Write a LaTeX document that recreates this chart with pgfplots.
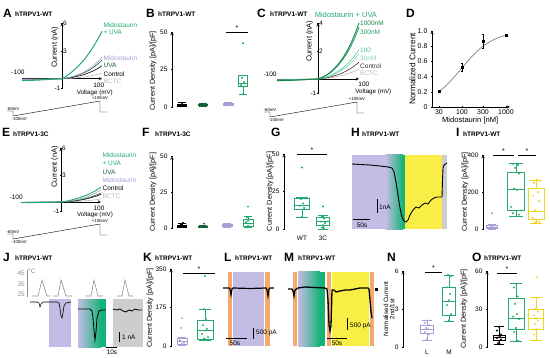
\documentclass[border=0pt]{standalone}
\usepackage{fontspec}
\setmainfont{Liberation Sans}
\usepackage{pgfplots}
\pgfplotsset{compat=1.18}
\usepgfplotslibrary{statistics}
\newcommand{\fs}[1]{\fontsize{#1}{#1}\selectfont}
\definecolor{grn}{RGB}{34,170,110}
\definecolor{dgrn}{RGB}{22,95,55}
\definecolor{lav}{RGB}{168,158,212}
\definecolor{lavbg}{RGB}{196,188,228}
\definecolor{yel}{RGB}{248,238,70}
\definecolor{yelbox}{RGB}{240,212,30}
\definecolor{org}{RGB}{244,170,105}
\definecolor{gbg}{RGB}{205,205,205}
\definecolor{bctc}{RGB}{185,185,185}
\definecolor{c1000}{RGB}{25,135,75}
\definecolor{c300}{RGB}{35,155,95}
\definecolor{c100}{RGB}{80,200,150}
\definecolor{c30}{RGB}{130,215,180}
\definecolor{ctrl}{RGB}{50,50,50}
\definecolor{hgrn}{RGB}{20,180,120}
\definecolor{tmp}{RGB}{140,140,140}
\tikzset{cl/.style={font=\fs{6.5}, anchor=west, inner sep=1pt}}
\pgfplotsset{
 base/.style={scale only axis, enlargelimits=false, clip=false,
   axis line style={line width=0.5pt,-},
   every inner x axis line/.append style={-}, every inner y axis line/.append style={-},
   every outer x axis line/.append style={-}, every outer y axis line/.append style={-},
   tick style={black,line width=0.5pt}, major tick length=2pt, tick align=outside,
   tick label style={font=\fs{6.5}}, /pgf/number format/assume math mode=true},
 ivax/.style={base, axis lines=middle, xmin=-100, xmax=100, ymin=-1, xtick=\empty, yticklabels={}},
 boxax/.style={base, axis x line=none, axis y line=left, xtick=\empty, ytick pos=left, boxplot/draw direction=y},
 trax/.style={base, hide axis, y dir=reverse},
 bx/.style={line width=0.6pt, solid},
 pts/.style={only marks, mark=*, mark size=0.75pt},
}
\newcommand\plab[3]{\node[anchor=base west, inner sep=0, font=\fs{12}\bfseries] at (#1pt,-#2pt) {#3};}
\newcommand\tlab[3]{\node[anchor=base west, inner sep=0, font=\fs{6.5}\bfseries] at (#1pt,-#2pt) {#3};}
\newcommand\protocol[2]{%
 \begin{scope}[shift={(#1pt,-#2pt)}]
  \draw[line width=0.4pt] (7pt,-111pt) -- (13pt,-111pt) -- (13pt,-116pt) -- (100pt,-101pt) -- (100pt,-112pt) -- (107pt,-112pt);
  \node[font=\fs{4.3}, anchor=south west, inner sep=0.5pt] at (6pt,-111pt) {-60mV};
  \node[font=\fs{4.3}, anchor=north west, inner sep=0.5pt] at (11pt,-116.5pt) {-100mV};
  \node[font=\fs{4.3}, anchor=south, inner sep=0.5pt] at (100pt,-100.5pt) {+100mV};
 \end{scope}}
\newcommand\ylab{\fs{7.2}}
\begin{document}
\begin{tikzpicture}
\useasboundingbox (0,0) rectangle (550pt,-358pt);
% ---------- labels ----------
\plab{3}{17.5}{A}\tlab{15}{16.5}{hTRPV1-WT}
\plab{146}{17.5}{B}\tlab{158}{16.5}{hTRPV1-WT}
\plab{257}{17.5}{C}\tlab{270}{16.5}{hTRPV1-WT}
\plab{406}{17.5}{D}
\plab{2}{137}{E}\tlab{13}{136.5}{hTRPV1-3C}
\plab{142}{137}{F}\tlab{155}{136.5}{hTRPV1-3C}
\plab{271}{137}{G}
\plab{351}{137}{H}\tlab{362}{136.5}{hTRPV1-WT}
\plab{456}{137}{I}\tlab{463}{136.5}{hTRPV1-WT}
\plab{3}{262}{J}\tlab{15}{261}{hTRPV1-WT}
\plab{143}{262}{K}\tlab{155}{261}{hTRPV1-WT}
\plab{224}{262}{L}\tlab{235}{261}{hTRPV1-WT}
\plab{284}{262}{M}\tlab{298}{261}{hTRPV1-WT}
\plab{387}{262}{N}
\plab{472}{262}{O}\tlab{484}{261}{hTRPV1-WT}
\protocol{0}{0}
\protocol{257}{1}
\protocol{0}{123}
% ---------- A ----------
\begin{axis}[ivax, at={(22pt,-88pt)}, anchor=south west, width=80pt, height=65pt, ymax=6, ytick={-1,3,6}]
\addplot[bctc, line width=0.6pt] coordinates {(-100,-0.02)(-80,-0.02)(-60,-0.01)(-40,-0.01)(-20,0)(0,0)(10,0.02)(20,0.04)(30,0.07)(40,0.11)(50,0.16)(60,0.22)(70,0.29)(80,0.38)(90,0.48)(100,0.6)};
\addplot[black, line width=0.6pt] coordinates {(-100,-0.06)(-80,-0.05)(-60,-0.04)(-40,-0.03)(-20,-0.01)(0,0)(10,0.04)(20,0.1)(30,0.17)(40,0.27)(50,0.38)(60,0.52)(70,0.69)(80,0.88)(90,1.12)(100,1.4)};
\addplot[dgrn, line width=0.6pt] coordinates {(-100,-0.08)(-80,-0.07)(-60,-0.06)(-40,-0.04)(-20,-0.02)(0,0)(10,0.06)(20,0.14)(30,0.24)(40,0.38)(50,0.54)(60,0.74)(70,0.98)(80,1.26)(90,1.6)(100,2.0)};
\addplot[lav, line width=0.6pt] coordinates {(-100,-0.09)(-80,-0.08)(-60,-0.07)(-40,-0.05)(-20,-0.02)(0,0)(10,0.07)(20,0.16)(30,0.28)(40,0.44)(50,0.62)(60,0.85)(70,1.13)(80,1.45)(90,1.84)(100,2.3)};
\addplot[grn, line width=1pt] coordinates {(-100,-0.2)(-80,-0.18)(-60,-0.15)(-40,-0.1)(-20,-0.05)(0,0)(10,0.25)(20,0.56)(30,0.92)(40,1.33)(50,1.79)(60,2.3)(70,2.9)(80,3.57)(90,4.28)(100,5.1)};
\node[cl, text=grn] at (axis cs:101,5.8) {Midostaurin};
\node[cl, text=grn] at (axis cs:101,4.95) {+ UVA};
\node[cl, text=lav] at (axis cs:101,2.26) {Midostaurin};
\node[cl, text=dgrn] at (axis cs:101,1.4) {UVA};
\node[cl, text=black] at (axis cs:101,0.54) {Control};
\node[cl, text=bctc] at (axis cs:101,-0.25) {BCTC};
\node[font=\fs{6.5}, anchor=west, inner sep=1pt] at (axis cs:0,6) {6};
\node[font=\fs{6.5}, anchor=west, inner sep=1pt] at (axis cs:0,3) {3};
\node[font=\fs{6.5}, anchor=east, inner sep=1.5pt] at (axis cs:0,-1) {-1};
\node[font=\fs{6.5}] at (axis cs:-110,0.65) {-100};
\node[font=\fs{6.5}] at (axis cs:92,-0.7) {100};
\node[font=\fs{6.2}] at (axis cs:82,-1.5) {Voltage (mV)};
\node[font=\fs{7.5}, rotate=90] at (axis cs:-17.5,3.4) {Current (nA)};
\end{axis}
% ---------- B ----------
\begin{axis}[boxax, at={(172pt,-107pt)}, anchor=south west, width=83pt, height=75pt, xmin=172, xmax=255, ymin=0, ymax=50, ytick={0,25,50}]
\addplot[draw=black, bx, boxplot prepared={draw position=182, lower whisker=0.2, lower quartile=0.6, median=1.2, upper quartile=2.0, upper whisker=3.0, box extend=9}] coordinates {};
\addplot[draw=dgrn, bx, boxplot prepared={draw position=203, lower whisker=0.3, lower quartile=0.8, median=1.3, upper quartile=1.8, upper whisker=2.5, box extend=9}] coordinates {};
\addplot[draw=lav, bx, boxplot prepared={draw position=228, lower whisker=0.8, lower quartile=1.2, median=1.6, upper quartile=2.2, upper whisker=2.8, box extend=10}] coordinates {};
\addplot[draw=grn, bx, boxplot prepared={draw position=243, lower whisker=8.5, lower quartile=14, median=16, upper quartile=20.8, upper whisker=21, box extend=9}] coordinates {};
\addplot[pts, black] coordinates {(181,0.5)(183,1.2)(182,2.8)(180,1.5)(184,0.9)};
\addplot[pts, dgrn] coordinates {(202,0.8)(204,1.5)(203,2.2)(201,1.1)};
\addplot[pts, lav] coordinates {(227,1.2)(229,2.0)(228,1.6)(226,0.9)};
\addplot[pts, grn] coordinates {(243,42.5)(242,19.5)(244,16.5)(241,14.5)(245,13.8)(243,8.5)};
\draw[line width=0.5pt] (axis cs:226,50) -- (axis cs:248,50) node[midway, above=-2pt, font=\fs{7}] {*};
\node[font=\ylab, rotate=90] at (axis cs:153,24) {Current Density [pA]/[pF]};
\end{axis}
% ---------- C ----------
\begin{axis}[ivax, at={(277pt,-93pt)}, anchor=south west, width=82pt, height=70pt, ymax=4, ytick={-1,2,4}]
\addplot[bctc, line width=0.6pt] coordinates {(-100,-0.02)(-80,-0.02)(-60,-0.01)(-40,-0.01)(-20,0)(0,0)(10,0.02)(20,0.05)(30,0.08)(40,0.13)(50,0.19)(60,0.26)(70,0.34)(80,0.44)(90,0.56)(100,0.7)};
\addplot[ctrl, line width=0.6pt] coordinates {(-100,-0.05)(-80,-0.04)(-60,-0.03)(-40,-0.02)(-20,-0.01)(0,0)(10,0.04)(20,0.08)(30,0.14)(40,0.23)(50,0.32)(60,0.44)(70,0.59)(80,0.76)(90,0.96)(100,1.2)};
\addplot[c30, line width=0.6pt] coordinates {(-100,-0.07)(-80,-0.06)(-60,-0.05)(-40,-0.04)(-20,-0.02)(0,0)(10,0.05)(20,0.13)(30,0.22)(40,0.34)(50,0.49)(60,0.67)(70,0.88)(80,1.13)(90,1.44)(100,1.8)};
\addplot[c100, line width=0.6pt] coordinates {(-100,-0.08)(-80,-0.07)(-60,-0.06)(-40,-0.04)(-20,-0.02)(0,0)(10,0.06)(20,0.15)(30,0.25)(40,0.4)(50,0.57)(60,0.78)(70,1.03)(80,1.32)(90,1.68)(100,2.1)};
\addplot[c300, line width=0.8pt] coordinates {(-100,-0.12)(-80,-0.1)(-60,-0.08)(-40,-0.06)(-20,-0.03)(0,0)(10,0.11)(20,0.26)(30,0.44)(40,0.7)(50,1.0)(60,1.37)(70,1.81)(80,2.33)(90,2.96)(100,3.7)};
\addplot[c1000, line width=0.9pt] coordinates {(-100,-0.13)(-80,-0.11)(-60,-0.09)(-40,-0.06)(-20,-0.03)(0,0)(10,0.12)(20,0.28)(30,0.48)(40,0.76)(50,1.08)(60,1.48)(70,1.96)(80,2.52)(90,3.2)(100,4.0)};
\node[cl, text=c1000] at (axis cs:100,4.0) {1000nM};
\node[cl, text=c300] at (axis cs:100,3.36) {300nM};
\node[cl, text=c100] at (axis cs:100,2.07) {100};
\node[cl, text=c30] at (axis cs:100,1.5) {30nM};
\node[cl, text=ctrl] at (axis cs:100,0.93) {Control};
\node[cl, text=bctc] at (axis cs:100,0.43) {BCTC};
\node[font=\fs{7.5}, text=grn] at (axis cs:68,4.57) {Midostaurin + UVA};
\node[font=\fs{6.5}, anchor=west, inner sep=1pt] at (axis cs:0,4) {4};
\node[font=\fs{6.5}, anchor=west, inner sep=1pt] at (axis cs:0,2) {2};
\node[font=\fs{6.5}, anchor=east, inner sep=1.5pt] at (axis cs:0,-1) {-1};
\node[font=\fs{6.5}] at (axis cs:-117,0.36) {-100};
\node[font=\fs{6.5}] at (axis cs:112,-0.4) {100};
\node[font=\fs{6.2}] at (axis cs:135,-0.92) {Voltage (mV)};
\node[font=\fs{7.5}, rotate=90] at (axis cs:-20,2.7) {Current (nA)};
\end{axis}
% ---------- D ----------
\begin{axis}[base, axis lines=left, at={(432pt,-107pt)}, anchor=south west, width=78pt, height=76pt, xmode=log, xmin=20.8, xmax=1233, ymin=0, ymax=1.0, xtick={30,100,300,1000}, xticklabels={30,100,300,1000}, ytick={0,0.2,0.4,0.6,0.8,1.0}, yticklabels={0,0.2,0.4,0.6,0.8,1.0}, tick label style={font=\fs{7}}, xticklabel style={inner sep=1pt}]
\addplot[gray, line width=0.7pt, smooth] coordinates {(30,0.20)(40,0.262)(50,0.316)(70,0.41)(100,0.515)(150,0.634)(200,0.71)(300,0.80)(500,0.88)(700,0.917)(1000,0.944)};
\addplot[only marks, mark=square*, mark size=1pt, black, error bars/.cd, y dir=both, y explicit, error mark options={rotate=90, mark size=1.2pt}] coordinates {(30,0.21) +- (0,0.015) (100,0.52) +- (0,0.05) (300,0.87) +- (0,0.09) (1000,0.94) +- (0,0.015)};
\node[font=\fs{7.6}] at (axis description cs:0.49,-0.175) {Midostaurin [nM]};
\node[font=\fs{8.3}, rotate=90] at (axis description cs:-0.25,0.5) {Normalized Current};
\end{axis}
% ---------- E ----------
\begin{axis}[ivax, at={(21pt,-211pt)}, anchor=south west, width=80pt, height=63pt, ymax=6, ytick={-1,3,6}]
\addplot[bctc, line width=0.6pt] coordinates {(-100,-0.01)(-80,-0.01)(-60,-0.01)(-40,0)(-20,0)(0,0)(10,0.01)(20,0.02)(30,0.04)(40,0.06)(50,0.09)(60,0.13)(70,0.17)(80,0.22)(90,0.28)(100,0.35)};
\addplot[black, line width=0.6pt] coordinates {(-100,-0.04)(-80,-0.03)(-60,-0.03)(-40,-0.02)(-20,-0.01)(0,0)(10,0.03)(20,0.06)(30,0.1)(40,0.16)(50,0.23)(60,0.31)(70,0.42)(80,0.54)(90,0.68)(100,0.85)};
\addplot[dgrn, line width=0.6pt] coordinates {(-100,-0.04)(-80,-0.04)(-60,-0.03)(-40,-0.02)(-20,-0.01)(0,0)(10,0.03)(20,0.07)(30,0.12)(40,0.19)(50,0.27)(60,0.37)(70,0.49)(80,0.63)(90,0.8)(100,1.0)};
\addplot[lav, line width=0.6pt] coordinates {(-100,-0.05)(-80,-0.05)(-60,-0.04)(-40,-0.03)(-20,-0.01)(0,0)(10,0.04)(20,0.09)(30,0.16)(40,0.26)(50,0.36)(60,0.5)(70,0.66)(80,0.85)(90,1.08)(100,1.35)};
\addplot[grn, line width=0.9pt] coordinates {(-100,-0.08)(-80,-0.07)(-60,-0.06)(-40,-0.04)(-20,-0.02)(0,0)(10,0.07)(20,0.15)(30,0.27)(40,0.39)(50,0.54)(60,0.7)(70,0.88)(80,1.1)(90,1.35)(100,1.65)};
\node[cl, text=grn] at (axis cs:101,5.2) {Midostaurin};
\node[cl, text=grn] at (axis cs:101,4.3) {+ UVA};
\node[cl, text=dgrn] at (axis cs:101,3.3) {UVA};
\node[cl, text=lav] at (axis cs:101,2.4) {Midostaurin};
\node[cl, text=black] at (axis cs:101,1.55) {Control};
\node[cl, text=bctc] at (axis cs:101,0.6) {BCTC};
\node[font=\fs{6.5}, anchor=west, inner sep=1pt] at (axis cs:0,6) {6};
\node[font=\fs{6.5}, anchor=west, inner sep=1pt] at (axis cs:0,3) {3};
\node[font=\fs{6.5}, anchor=east, inner sep=1.5pt] at (axis cs:0,-1) {-1};
\node[font=\fs{6.5}] at (axis cs:-112,0.55) {-100};
\node[font=\fs{6.5}] at (axis cs:95,-0.72) {100};
\node[font=\fs{6.2}] at (axis cs:85,-1.4) {Voltage (mV)};
\node[font=\fs{7.5}, rotate=90] at (axis cs:-15,3.9) {Current (nA)};
\end{axis}
% ---------- F ----------
\begin{axis}[boxax, at={(172pt,-228pt)}, anchor=south west, width=83pt, height=71.5pt, xmin=172, xmax=255, ymin=0, ymax=50, ytick={0,25,50}]
\addplot[draw=black, bx, boxplot prepared={draw position=182, lower whisker=0.3, lower quartile=0.8, median=1.4, upper quartile=2.2, upper whisker=3.5, box extend=9}] coordinates {};
\addplot[draw=dgrn, bx, boxplot prepared={draw position=203, lower whisker=0.3, lower quartile=0.6, median=1.0, upper quartile=1.5, upper whisker=2.0, box extend=9}] coordinates {};
\addplot[draw=lav, bx, boxplot prepared={draw position=227, lower whisker=0.8, lower quartile=1.2, median=1.7, upper quartile=2.4, upper whisker=3.0, box extend=10}] coordinates {};
\addplot[draw=grn, bx, boxplot prepared={draw position=248, lower whisker=0.3, lower quartile=1.2, median=3.5, upper quartile=6.3, upper whisker=8, box extend=10}] coordinates {};
\addplot[pts, black] coordinates {(182,1)(181,2.5)(183,3.5)};
\addplot[pts, dgrn] coordinates {(203,1)(204,3)(202,0.6)};
\addplot[pts, lav] coordinates {(227,1.5)(228,2.2)};
\addplot[pts, grn] coordinates {(248,15)(247,7.5)(249,6)(248,5)(246,4)(250,3)(248,1.5)(247,0.5)};
\node[font=\ylab, rotate=90] at (axis cs:153,25) {Current Density [pA]/[pF]};
\end{axis}
% ---------- G ----------
\begin{axis}[boxax, at={(284pt,-229pt)}, anchor=south west, width=50pt, height=75pt, xmin=284, xmax=334, ymin=0, ymax=50, ytick={0,25,50}]
\addplot[draw=grn, bx, boxplot prepared={draw position=302, lower whisker=8, lower quartile=13.3, median=16, upper quartile=20.7, upper whisker=21, box extend=15}] coordinates {};
\addplot[draw=grn, bx, boxplot prepared={draw position=323, lower whisker=0, lower quartile=2.7, median=5.3, upper quartile=8, upper whisker=9, box extend=13}] coordinates {};
\addplot[pts, grn] coordinates {(302,41)(301,20)(303,17)(300,15.5)(304,14)(302,8)};
\addplot[pts, grn] coordinates {(323,15)(322,8.5)(324,7)(321,5)(325,4)(323,2.5)(322,1)(324,0.3)};
\draw[line width=0.5pt] (axis cs:297,50) -- (axis cs:327,50) node[midway, above=-2pt, font=\fs{7}] {*};
\node[font=\fs{6.5}] at (axis cs:302,-6) {WT};
\node[font=\fs{6.5}] at (axis cs:323,-6) {3C};
\node[font=\ylab, rotate=90] at (axis cs:270,25) {Current Density [pA]/[pF]};
\end{axis}
% ---------- H ----------
\begin{axis}[trax, at={(352pt,-155pt)}, anchor=north west, width=95pt, height=74pt, xmin=352, xmax=447, ymin=155, ymax=229]
\fill[lavbg] (axis cs:352,155) rectangle (axis cs:386,229);
\fill[left color=lavbg, right color=hgrn] (axis cs:385.5,155) rectangle (axis cs:403,229);
\fill[hgrn] (axis cs:402.5,155) rectangle (axis cs:405,229);
\fill[yel] (axis cs:405,155) rectangle (axis cs:442,229);
\fill[gbg] (axis cs:442,155) rectangle (axis cs:447,229);
\addplot[black, line width=0.9pt] coordinates {(352,164)(360,164.5)(370,165)(380,166)(388,167)(392,168)(394,172)(396,182)(398,195)(400,208)(402,217)(404,221)(406,222)(408,220)(410,215)(413,210)(416,207)(419,208)(422,205)(425,203)(428,204)(431,200)(434,198)(437,197)(440,197)(442,197)(442.5,180)(443,168)(444,165)(447,163)};
\draw[line width=0.6pt] (axis cs:377,199) -- (axis cs:377,213);
\node[font=\fs{6.5}, anchor=west, inner sep=1pt] at (axis cs:378,207) {1nA};
\draw[line width=0.6pt] (axis cs:353,219) -- (axis cs:370,219);
\node[font=\fs{6.5}] at (axis cs:362,225) {50s};
\end{axis}
% ---------- I ----------
\begin{axis}[boxax, at={(483pt,-229pt)}, anchor=south west, width=65pt, height=74pt, xmin=483, xmax=548, ymin=0, ymax=400, ytick={0,200,400}]
\addplot[draw=lav, bx, boxplot prepared={draw position=492, lower whisker=0, lower quartile=5, median=10, upper quartile=18, upper whisker=25, box extend=11}] coordinates {};
\addplot[draw=grn, bx, boxplot prepared={draw position=516, lower whisker=70, lower quartile=103, median=214, upper quartile=304, upper whisker=355, box extend=17}] coordinates {};
\addplot[draw=yelbox, bx, boxplot prepared={draw position=536, lower whisker=32, lower quartile=50, median=97, upper quartile=220, upper whisker=265, box extend=16}] coordinates {};
\addplot[pts, lav] coordinates {(492,85)(490,22)(494,18)(491,12)(493,8)(490,5)(494,3)};
\addplot[pts, grn] coordinates {(513,352)(518,346)(515,330)(519,300)(514,218)(517,212)(511,120)(521,100)(513,85)(519,78)};
\addplot[pts, yelbox] coordinates {(537,265)(534,250)(538,200)(533,180)(539,150)(535,100)(537,95)(533,60)(539,40)(535,35)};
\draw[line width=0.5pt] (axis cs:493,400) -- (axis cs:514,400) node[midway, above=-2pt, font=\fs{7}] {*};
\draw[line width=0.5pt] (axis cs:518,400) -- (axis cs:536,400) node[midway, above=-2pt, font=\fs{7}] {*};
\node[font=\ylab, rotate=90] at (axis cs:465,200) {Current Density [pA]/[pF]};
\end{axis}
% ---------- J ----------
\begin{axis}[trax, at={(0pt,-262pt)}, anchor=north west, width=145pt, height=90pt, xmin=0, xmax=145, ymin=262, ymax=352]
\fill[lavbg] (axis cs:49,299) rectangle (axis cs:71,347);
\fill[left color=lavbg, right color=hgrn] (axis cs:78,299) rectangle (axis cs:101,347);
\fill[hgrn] (axis cs:100.5,299) rectangle (axis cs:106,347);
\fill[gbg] (axis cs:113,299) rectangle (axis cs:143,347);
\draw[tmp, line width=0.5pt] (axis cs:27,270) -- (axis cs:27,297);
\node[font=\fs{6.5}, text=tmp, anchor=east, inner sep=1pt] at (axis cs:26,273) {45};
\node[font=\fs{6.5}, text=tmp, anchor=east, inner sep=1pt] at (axis cs:26,284) {35};
\node[font=\fs{6.5}, text=tmp, anchor=east, inner sep=1pt] at (axis cs:26,294) {25};
\node[font=\fs{6.5}, text=tmp, anchor=west, inner sep=1pt] at (axis cs:27,271) {°C};
\addplot[tmp, line width=0.6pt] coordinates {(32,296)(38,296)(42,280)(47,296)(50,296)};
\addplot[tmp, line width=0.6pt] coordinates {(53,296)(58,296)(61,280)(66,296)(72,296)};
\addplot[tmp, line width=0.6pt] coordinates {(85,296)(91,296)(94,280)(98,296)(103,296)};
\addplot[tmp, line width=0.6pt] coordinates {(117,296)(122,296)(125,280)(129,296)(133,296)};
\addplot[black, line width=0.6pt] coordinates {(30,302)(37,302)(39,303)(40,307)(41,304)(43,302)(49,302)};
\addplot[black, line width=0.6pt] coordinates {(49,302)(57,302)(59,303)(60,308)(61,316)(62,318)(63,313)(64,306)(66,303)(71,302)};
\addplot[black, line width=0.8pt] coordinates {(78,309)(86,309)(90,309)(92,311)(93,318)(94,330)(95,340)(96,332)(97,318)(99,311)(102,310)(106,310)};
\addplot[black, line width=0.8pt] coordinates {(113,309)(117,310)(120,309)(123,311)(126,312)(129,310)(132,311)(135,309)(138,310)(142,310)};
\draw[line width=0.6pt] (axis cs:119,332) -- (axis cs:119,342);
\node[font=\fs{6.5}, anchor=west, inner sep=1pt] at (axis cs:121,337) {1 nA};
\draw[line width=0.6pt] (axis cs:106,347) -- (axis cs:117,347);
\node[font=\fs{6.5}] at (axis cs:112,352) {10s};
\end{axis}
% ---------- K ----------
\begin{axis}[boxax, at={(171pt,-346pt)}, anchor=south west, width=49pt, height=77pt, xmin=171, xmax=220, ymin=0, ymax=350, ytick={0,175,350}]
\addplot[draw=lav, bx, boxplot prepared={draw position=182, lower whisker=3, lower quartile=9, median=22, upper quartile=36, upper whisker=40, box extend=10}] coordinates {};
\addplot[draw=grn, bx, boxplot prepared={draw position=205, lower whisker=27, lower quartile=32, median=73, upper quartile=118, upper whisker=168, box extend=16}] coordinates {};
\addplot[pts, lav] coordinates {(182,127)(181,82)(183,36)(180,25)(184,15)(182,10)(181,5)};
\addplot[pts, grn] coordinates {(205,318)(204,168)(206,122)(203,95)(207,78)(205,70)(202,55)(208,40)(204,35)(206,30)};
\draw[line width=0.5pt] (axis cs:183,332) -- (axis cs:215,332) node[midway, above=-2pt, font=\fs{7}] {*};
\node[font=\ylab, rotate=90] at (axis cs:150,173) {Current Density [pA]/[pF]};
\end{axis}
% ---------- L ----------
\begin{axis}[trax, at={(222pt,-272pt)}, anchor=north west, width=53pt, height=74pt, xmin=222, xmax=275, ymin=272, ymax=346]
\fill[org] (axis cs:227.5,272) rectangle (axis cs:232,346);
\fill[lavbg] (axis cs:233,272) rectangle (axis cs:264,346);
\fill[org] (axis cs:265,272) rectangle (axis cs:270,346);
\addplot[black, line width=1.2pt] coordinates {(223,288)(229,288)(230,289)(231,295)(232,289)(233,288)(250,288.5)(266,288)(267,290)(268,296)(269,289)(270,288)(274,288)};
\draw[line width=0.6pt] (axis cs:253,328) -- (axis cs:253,339);
\node[font=\fs{6.5}, anchor=west, inner sep=1pt] at (axis cs:255,333) {500 pA};
\draw[line width=0.6pt] (axis cs:226,338) -- (axis cs:247,338);
\node[font=\fs{6.5}] at (axis cs:235,343) {50s};
\end{axis}
% ---------- M ----------
\begin{axis}[trax, at={(285pt,-272pt)}, anchor=north west, width=95pt, height=74pt, xmin=285, xmax=380, ymin=272, ymax=346]
\fill[org] (axis cs:293,272) rectangle (axis cs:297,346);
\fill[left color=lavbg, right color=hgrn] (axis cs:298,272) rectangle (axis cs:320,346);
\fill[hgrn] (axis cs:319.5,272) rectangle (axis cs:325,346);
\fill[org] (axis cs:327,272) rectangle (axis cs:330.5,346);
\fill[yel] (axis cs:331.5,272) rectangle (axis cs:369,346);
\fill[org] (axis cs:370,272) rectangle (axis cs:374,346);
\addplot[black, line width=1.3pt] coordinates {(288,289)(292,289)(293,291)(294,296)(295,290)(298,288)(305,287)(315,287.5)(325,288)(327,289)(328,300)(329,325)(330,331)(331,326)(332,290)(334,290)(336,292)(340,291)(345,290)(350,290)(355,289)(360,288)(365,288)(368,288)(369,289)(370,300)(371,312)(372,318)};
\addplot[black, only marks, mark=square*, mark size=1.2pt] coordinates {(376,289)};
\draw[line width=0.6pt] (axis cs:347,318) -- (axis cs:347,330);
\node[font=\fs{6.5}, anchor=west, inner sep=1pt] at (axis cs:349,326) {500 pA};
\draw[line width=0.6pt] (axis cs:327,338) -- (axis cs:347,338);
\node[font=\fs{6.5}] at (axis cs:337,343) {50s};
\end{axis}
% ---------- N ----------
\begin{axis}[boxax, at={(403pt,-347pt)}, anchor=south west, width=59pt, height=76pt, xmin=403, xmax=462, ymin=0, ymax=6, ytick={0,3,6}]
\addplot[draw=lav, bx, boxplot prepared={draw position=427, lower whisker=0.55, lower quartile=1.1, median=1.4, upper quartile=1.75, upper whisker=2.1, box extend=13}] coordinates {};
\addplot[draw=grn, bx, boxplot prepared={draw position=449, lower whisker=2.0, lower quartile=2.5, median=3.6, upper quartile=4.7, upper whisker=5.7, box extend=13}] coordinates {};
\addplot[pts, lav] coordinates {(427,2.1)(425,1.9)(429,1.7)(426,1.5)(428,1.4)(425,1.2)(429,1.0)(427,0.6)};
\addplot[pts, grn] coordinates {(448,5.7)(451,5.6)(447,4.7)(450,4.2)(449,3.7)(447,3.3)(451,2.6)(449,2.1)};
\draw[line width=0.5pt] (axis cs:425,5.9) -- (axis cs:442,5.9) node[midway, above=-2pt, font=\fs{7}] {*};
\node[font=\fs{6.5}] at (axis cs:427,-0.45) {L};
\node[font=\fs{6.5}] at (axis cs:449,-0.45) {M};
\node[font=\fs{6.3}, rotate=90, align=center] at (axis cs:389,3.0) {Normalised Current\\2nd/1st};
\end{axis}
% ---------- O ----------
\begin{axis}[boxax, at={(487pt,-347pt)}, anchor=south west, width=61pt, height=76pt, xmin=487, xmax=548, ymin=0, ymax=60, ytick={0,30,60}]
\addplot[draw=black, bx, boxplot prepared={draw position=499, lower whisker=2, lower quartile=5.5, median=7.5, upper quartile=9.5, upper whisker=16, box extend=12}] coordinates {};
\addplot[draw=grn, bx, boxplot prepared={draw position=516, lower whisker=4.7, lower quartile=14, median=23, upper quartile=38.6, upper whisker=50, box extend=16}] coordinates {};
\addplot[draw=yelbox, bx, boxplot prepared={draw position=536, lower whisker=5, lower quartile=14, median=23, upper quartile=30, upper whisker=39, box extend=15}] coordinates {};
\addplot[pts, black] coordinates {(499,16)(497,13)(501,10)(498,9)(500,8)(497,7)(501,6)(499,5)(498,3)(500,2)};
\addplot[pts, grn] coordinates {(516,50)(514,47)(518,40)(515,34)(517,26)(513,24)(519,22)(516,15)(514,12)(518,5)};
\addplot[pts, yelbox] coordinates {(537,55)(535,30)(538,28)(534,25)(536,23)(538,21)(535,18)(537,14)(534,10)(536,5)};
\draw[line width=0.5pt] (axis cs:497,58.4) -- (axis cs:517,58.4) node[midway, above=-2pt, font=\fs{7}] {*};
\node[font=\ylab, rotate=90] at (axis cs:464,30) {Current Density [pA]/[pF]};
\end{axis}
\end{tikzpicture}
\end{document}
